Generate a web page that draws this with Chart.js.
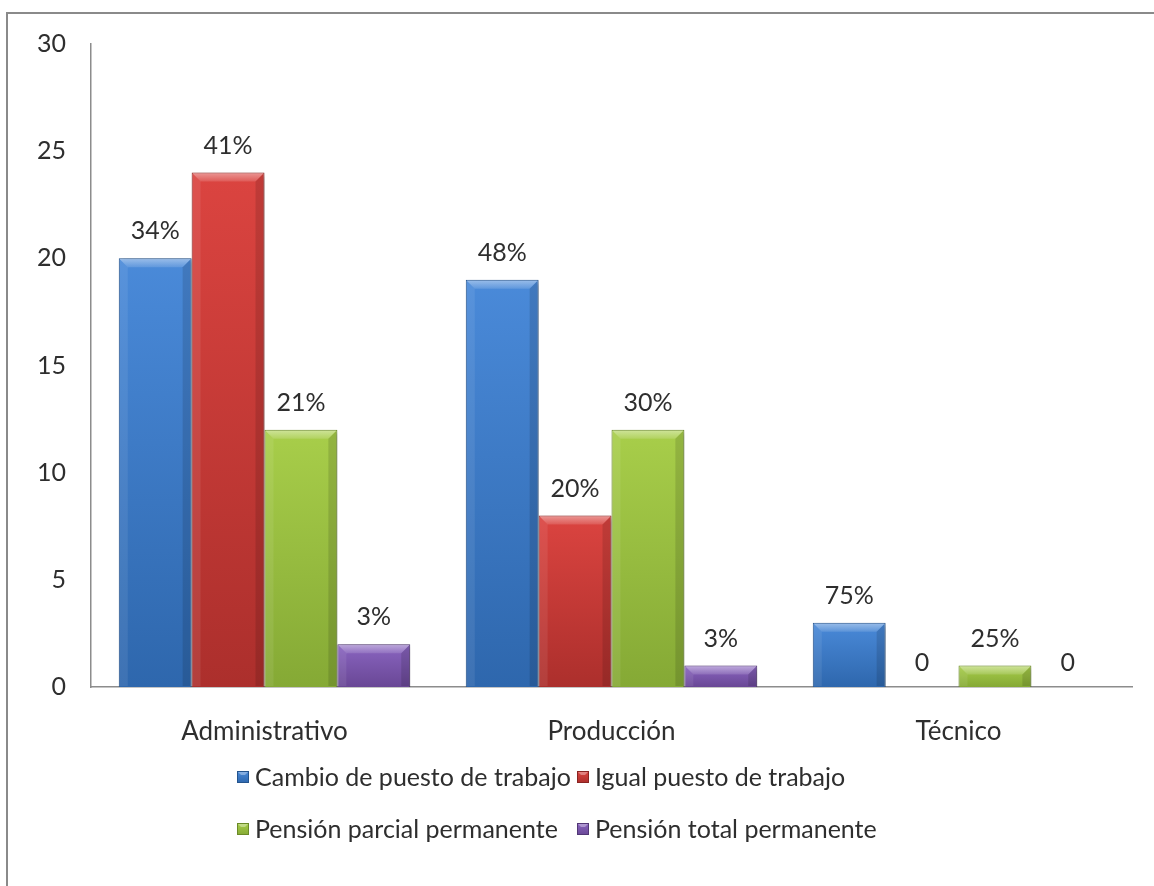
<!DOCTYPE html>
<html>
<head>
<meta charset="utf-8">
<script src="https://cdn.jsdelivr.net/npm/chart.js@4.4.1/dist/chart.umd.min.js"></script>
<style>
  html, body { margin: 0; padding: 0; background: #fff; }
  #wrap { width: 1154px; height: 886px; position: relative; }
</style>
</head>
<body>
<div id="wrap"><canvas id="chart"></canvas></div>
<script>
// Categories and counts per outcome
const categories = ['Administrativo', 'Producción', 'Técnico'];
const seriesNames = [
  'Cambio de puesto de trabajo',
  'Igual puesto de trabajo',
  'Pensión parcial permanente',
  'Pensión total permanente'
];
const cambioPuesto   = [20, 19, 3];
const igualPuesto    = [24, 8, 0];
const pensionParcial = [12, 12, 1];
const pensionTotal   = [2, 1, 0];
const yTicks = [0, 5, 10, 15, 20, 25, 30];

// light (top) / dark (bottom) shade for each series
const shades = [
  ['#4a8ad9', '#2e67ad'],
  ['#db4440', '#ac2f2c'],
  ['#a8ce4a', '#85a935'],
  ['#8a65c1', '#694795']
];
const edgeColors = ['#24548e', '#8a2422', '#6b8a28', '#523776'];

const FONT = 'Lato, "Open Sans", sans-serif';
const TEXT = '#2e2e2e';

const seriesValues = [cambioPuesto, igualPuesto, pensionParcial, pensionTotal];
const totals = categories.map((_, i) => seriesValues.reduce((s, arr) => s + arr[i], 0));

function barGradient(ctx, si) {
  const chart = ctx.chart;
  const area = chart.chartArea;
  if (!area || ctx.type !== 'data') return shades[si][0];
  const y = chart.scales.y;
  const top = y.getPixelForValue(ctx.raw);
  const base = y.getPixelForValue(0);
  const g = chart.ctx.createLinearGradient(0, top, 0, Math.max(base, top + 1));
  g.addColorStop(0, shades[si][0]);
  g.addColorStop(1, shades[si][1]);
  return g;
}

const datasets = seriesValues.map((vals, si) => ({
  label: seriesNames[si],
  data: vals,
  backgroundColor: ctx => barGradient(ctx, si),
  borderColor: edgeColors[si],
  borderWidth: 1,
  barPercentage: 1,
  categoryPercentage: 0.84
}));

// outer frame of the chart object
const framePlugin = {
  id: 'frame',
  beforeDraw(chart) {
    const c = chart.ctx;
    c.save();
    c.strokeStyle = '#8a8a8a';
    c.lineWidth = 2;
    c.beginPath();
    c.moveTo(7, chart.height + 5);
    c.lineTo(7, 13);
    c.lineTo(chart.width + 5, 13);
    c.stroke();
    c.restore();
  }
};

// soft drop shadow + bevel highlights on every bar
const bevelPlugin = {
  id: 'bevel',
  beforeDatasetDraw(chart) {
    const c = chart.ctx;
    c.save();
    c.shadowColor = 'rgba(0,0,0,0.35)';
    c.shadowBlur = 5;
    c.shadowOffsetX = 2;
    c.shadowOffsetY = 2;
  },
  afterDatasetDraw(chart, args) {
    const c = chart.ctx;
    c.restore();
    const meta = args.meta;
    c.save();
    meta.data.forEach(bar => {
      const h = bar.base - bar.y;
      if (h < 1) return;
      const l = bar.x - bar.width / 2, r = bar.x + bar.width / 2;
      const t = bar.y, b = bar.base;
      const bv = Math.min(9, h / 2);
      // top bevel
      const tg = c.createLinearGradient(0, t, 0, t + bv);
      tg.addColorStop(0, 'rgba(255,255,255,0.45)');
      tg.addColorStop(1, 'rgba(255,255,255,0.12)');
      c.fillStyle = tg;
      c.beginPath();
      c.moveTo(l + 1, t + 1); c.lineTo(r - 1, t + 1);
      c.lineTo(r - bv, t + bv); c.lineTo(l + bv, t + bv);
      c.closePath(); c.fill();
      // left edge, slightly lighter
      c.fillStyle = 'rgba(255,255,255,0.08)';
      c.beginPath();
      c.moveTo(l + 1, t + 1); c.lineTo(l + bv, t + bv);
      c.lineTo(l + bv, b - 1); c.lineTo(l + 1, b - 1);
      c.closePath(); c.fill();
      // right edge, darker
      c.fillStyle = 'rgba(0,0,0,0.12)';
      c.beginPath();
      c.moveTo(r - 1, t + 1); c.lineTo(r - bv, t + bv);
      c.lineTo(r - bv, b - 1); c.lineTo(r - 1, b - 1);
      c.closePath(); c.fill();
    });
    c.restore();
  }
};

// percentage of each category total above the bar, plain 0 for empty bars
const labelPlugin = {
  id: 'valueLabels',
  afterDatasetsDraw(chart) {
    const c = chart.ctx;
    c.save();
    c.font = '25px ' + FONT;
    c.fillStyle = TEXT;
    c.textAlign = 'center';
    c.textBaseline = 'middle';
    chart.data.datasets.forEach((ds, si) => {
      const meta = chart.getDatasetMeta(si);
      meta.data.forEach((bar, i) => {
        const v = ds.data[i];
        const txt = v === 0 ? '0' : Math.round(v * 100 / totals[i]) + '%';
        c.fillText(txt, bar.x, bar.y - (v === 0 ? 24 : 27));
      });
    });
    c.restore();
  }
};

// two-row legend with aligned columns
const legendPlugin = {
  id: 'gridLegend',
  afterDraw(chart) {
    const c = chart.ctx;
    const cols = [237, 577];
    const rows = [777, 829];
    c.save();
    c.font = '25px ' + FONT;
    c.textBaseline = 'middle';
    c.textAlign = 'left';
    chart.data.datasets.forEach((ds, si) => {
      const x = cols[si % 2], y = rows[Math.floor(si / 2)];
      const g = c.createLinearGradient(0, y - 6, 0, y + 6);
      g.addColorStop(0, shades[si][0]);
      g.addColorStop(1, shades[si][1]);
      c.fillStyle = g;
      c.fillRect(x, y - 6, 12, 12);
      c.strokeStyle = edgeColors[si];
      c.lineWidth = 1;
      c.strokeRect(x + 0.5, y - 5.5, 11, 11);
      c.fillStyle = 'rgba(255,255,255,0.35)';
      c.beginPath();
      c.moveTo(x + 1, y - 5); c.lineTo(x + 11, y - 5); c.lineTo(x + 8, y - 2); c.lineTo(x + 4, y - 2);
      c.closePath(); c.fill();
      c.fillStyle = TEXT;
      c.fillText(ds.label, x + 18, y + 1);
    });
    c.restore();
  }
};

const ctx = document.getElementById('chart').getContext('2d');
new Chart(ctx, {
  type: 'bar',
  data: { labels: categories, datasets: datasets },
  options: {
    responsive: true,
    maintainAspectRatio: false,
    animation: false,
    layout: { padding: { top: 44, right: 22, left: 0, bottom: 0 } },
    scales: {
      x: {
        grid: { display: false, drawTicks: false },
        border: { display: true, color: '#8c8c8c', width: 1.5 },
        ticks: { color: TEXT, font: { family: FONT, size: 26 }, padding: 29 },
        afterFit: s => { s.height = 886 - 687; }
      },
      y: {
        min: 0,
        max: 30,
        afterBuildTicks: s => { s.ticks = yTicks.map(v => ({ value: v })); },
        grid: { display: false, drawTicks: false },
        border: { display: true, color: '#8c8c8c', width: 1.5 },
        ticks: { color: TEXT, font: { family: FONT, size: 25 }, padding: 25 },
        afterFit: s => { s.width = 91; }
      }
    },
    plugins: {
      legend: { display: false },
      tooltip: { enabled: false }
    }
  },
  plugins: [framePlugin, bevelPlugin, labelPlugin, legendPlugin]
});
</script>
</body>
</html>
